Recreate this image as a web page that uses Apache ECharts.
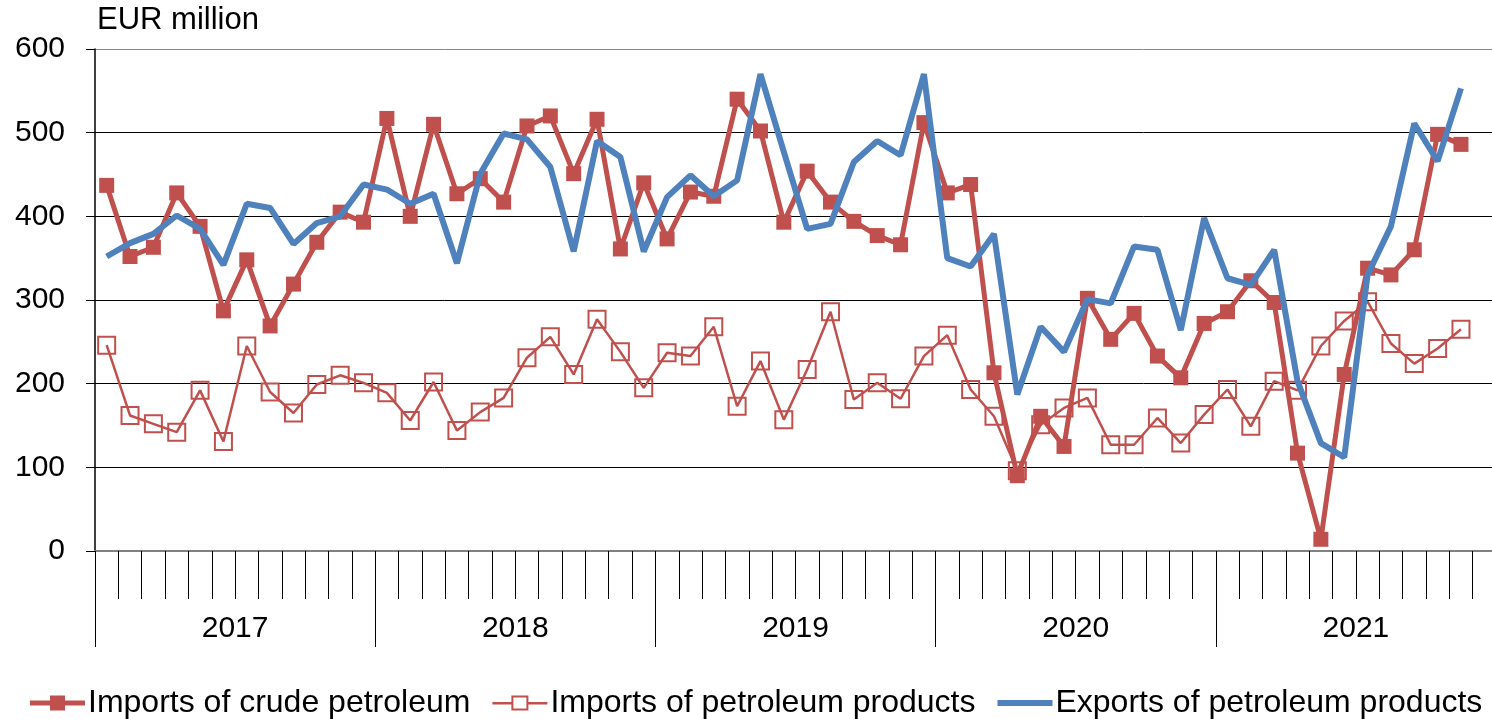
<!DOCTYPE html>
<html>
<head>
<meta charset="utf-8">
<script src="https://cdn.jsdelivr.net/npm/echarts@6/dist/echarts.min.js"></script>
<style>
html,body{margin:0;padding:0;background:#fff;}
#chart{width:1492px;height:719px;}
</style>
</head>
<body>
<div id="chart"></div>
<script>
var years = ['2017', '2018', '2019', '2020', '2021'];
var monthNames = ['Jan','Feb','Mar','Apr','May','Jun','Jul','Aug','Sep','Oct','Nov','Dec'];
var months = [];
years.forEach(function (y) { monthNames.forEach(function (m) { months.push(m + ' ' + y); }); });

var yTicks = [0, 100, 200, 300, 400, 500, 600];

var crudeImports = [437,352,363,428,388,287,348,269,319,369,405,393,
517,400,510,427,445,417,508,520,451,516,361,440,
373,429,424,540,502,393,454,417,394,377,366,512,
428,438,213,90,161,125,302,253,284,233,207,272,
286,323,297,117,14,211,338,330,360,498,486,null];

var productImports = [246,162,152,142,192,131,245,190,165,199,210,201,
189,156,202,144,166,183,231,256,211,277,238,195,
237,233,268,173,227,157,217,286,181,201,182,233,
258,193,161,96,151,171,183,127,127,159,129,163,
193,149,203,192,245,275,298,248,224,242,265,null];

var productExports = [352,368,379,401,385,342,415,410,367,392,400,438,
432,415,427,344,451,499,492,459,358,490,471,358,
423,449,424,443,570,477,385,391,465,490,473,570,
350,340,379,187,268,238,301,296,364,360,264,398,
326,318,360,203,129,112,330,388,511,466,553,null];

var RED = '#C0504D';
var BLUE = '#4F81BD';
var FONT = '"Liberation Sans", Arial, sans-serif';

var seriesNames = ['Imports of crude petroleum', 'Imports of petroleum products', 'Exports of petroleum products'];

var chart = echarts.init(document.getElementById('chart'));
chart.setOption({
  animation: false,
  backgroundColor: '#fff',
  textStyle: { fontFamily: FONT, color: '#000' },
  grid: { left: 95, top: 49, width: 1401, height: 502, containLabel: false, outerBoundsMode: 'none' },
  graphic: [{
    type: 'text', left: 97, top: 5,
    style: { text: 'EUR million', fontSize: 31, fontFamily: FONT, fill: '#000' }
  }],
  legend: {
    left: 25, top: 682,
    itemWidth: 55, itemHeight: 15, itemGap: 22,
    textStyle: { fontSize: 32, fontFamily: FONT, color: '#000', padding: [0, 0, 0, -2] },
    data: [{
      name: seriesNames[0],
      icon: 'path://M0,5h55v5h-55z M20,0h15v15h-15z',
      itemStyle: { color: RED, borderWidth: 0, borderColor: 'rgba(0,0,0,0)' }
    }, {
      name: seriesNames[1],
      icon: 'path://M0,6.5h19v2.5h-19z M36,6.5h19v2.5h-19z M19,0h17v15h-17z M21,2v11h13v-11z',
      itemStyle: { color: RED, borderWidth: 0, borderColor: 'rgba(0,0,0,0)' }
    }, {
      name: seriesNames[2],
      icon: 'path://M0,0h55v6h-55z',
      itemStyle: { color: BLUE, borderWidth: 0, borderColor: 'rgba(0,0,0,0)' }
    }]
  },
  xAxis: [{
    type: 'category', data: months, position: 'bottom', boundaryGap: true,
    axisLine: { show: true, lineStyle: { color: '#808080', width: 2 } },
    axisTick: { show: true, interval: 0, length: 48, lineStyle: { color: '#000', width: 1 } },
    axisLabel: { show: false },
    splitLine: { show: false }
  }, {
    type: 'category', data: years, position: 'bottom', boundaryGap: true,
    axisLine: { show: false },
    axisTick: { show: true, interval: 0, length: 96, lineStyle: { color: '#000', width: 1 } },
    axisLabel: { show: true, interval: 0, margin: 63, fontSize: 30, fontFamily: FONT, color: '#000' },
    splitLine: { show: false }
  }],
  yAxis: {
    type: 'value', min: yTicks[0], max: yTicks[yTicks.length - 1], interval: 100,
    axisLine: { show: true, lineStyle: { color: '#000', width: 1.5 } },
    axisTick: { show: true, length: 9, lineStyle: { color: '#000' } },
    axisLabel: { fontSize: 30, fontFamily: FONT, color: '#000', margin: 30 },
    splitLine: { show: true, lineStyle: { color: ['#000','#000','#000','#000','#000','#000','#888'], width: 1 } }
  },
  series: [{
    name: seriesNames[0], type: 'line', data: crudeImports,
    symbol: 'rect', symbolSize: 15, showAllSymbol: true,
    lineStyle: { color: RED, width: 5 },
    itemStyle: { color: RED, borderWidth: 0 },
    z: 2
  }, {
    name: seriesNames[1], type: 'line', data: productImports,
    symbol: 'rect', symbolSize: 17, showAllSymbol: true,
    lineStyle: { color: RED, width: 2.5 },
    itemStyle: { color: 'rgba(255,255,255,0)', borderColor: RED, borderWidth: 2 },
    z: 3
  }, {
    name: seriesNames[2], type: 'line', data: productExports,
    symbol: 'none',
    lineStyle: { color: BLUE, width: 6 },
    itemStyle: { color: BLUE },
    z: 4
  }]
});
</script>
</body>
</html>
